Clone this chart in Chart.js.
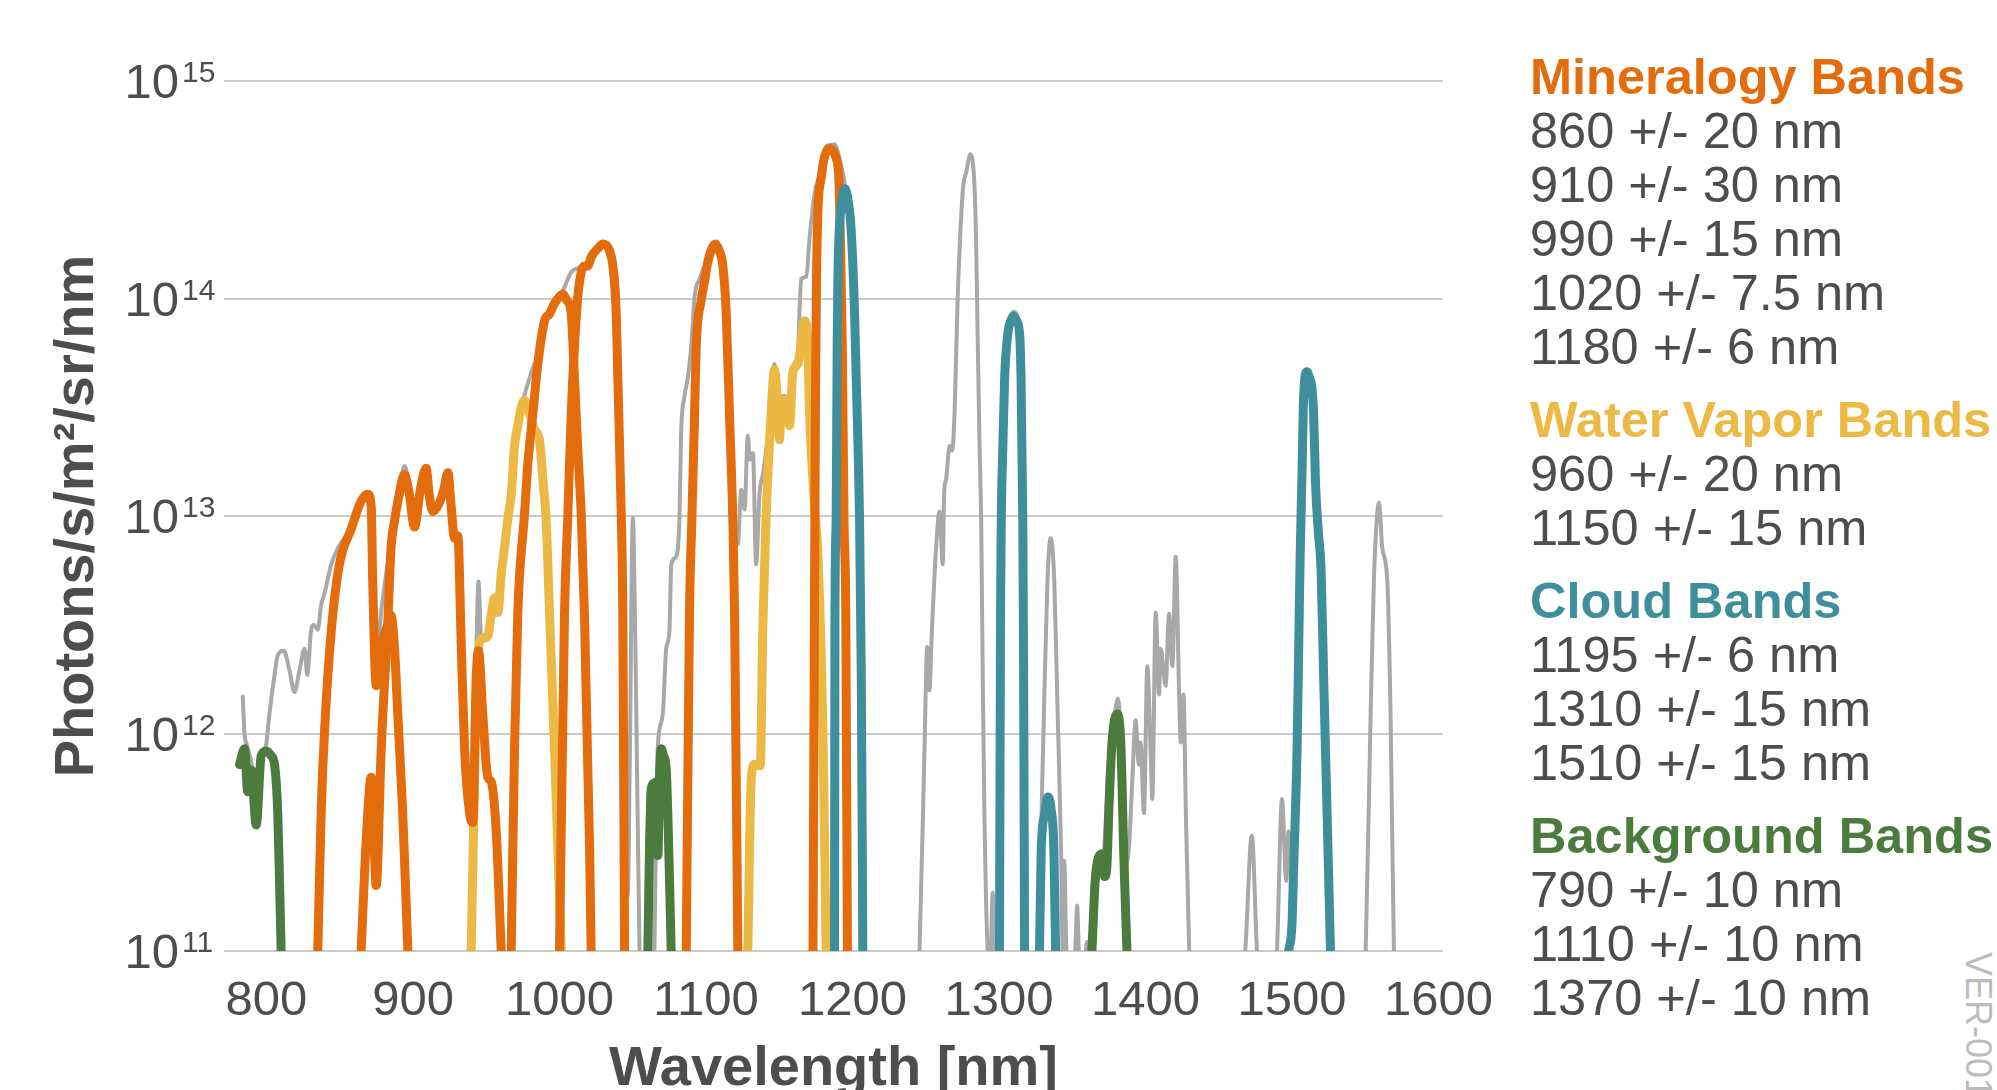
<!DOCTYPE html>
<html>
<head>
<meta charset="utf-8">
<script src="https://cdn.jsdelivr.net/npm/chart.js@4.4.0/dist/chart.umd.min.js"></script>
<style>
  html, body { margin: 0; padding: 0; background: #fff; }
  body { width: 1997px; height: 1090px; overflow: hidden; position: relative; font-family: 'Liberation Sans', Arial, sans-serif; }
  #wrap { position: absolute; left: 0; top: 0; width: 1520px; height: 1090px; }
  #legend { position: absolute; left: 1530px; top: 50px; white-space: nowrap; font-size: 50.5px; line-height: 54px; color: #4d4d4b; }
  #legend .grp + .grp { margin-top: 19px; }
  #legend .hd { font-weight: bold; }
  #ver { position: absolute; left: 1997px; top: 952px; transform-origin: 0 0; transform: rotate(90deg); font-size: 36px; line-height: 38px; color: #bcbcbc; white-space: nowrap; }
</style>
</head>
<body>
<div id="wrap"><canvas id="grafico" width="1520" height="1090"></canvas></div>
<div id="legend"></div>
<div id="ver">VER-001c</div>
<script>
// ticks
const xTicks = [800, 900, 1000, 1100, 1200, 1300, 1400, 1500, 1600];
const yTicks = [1e11, 1e12, 1e13, 1e14, 1e15];

// background spectrum [nm, photons/s/m2/sr/nm]
const background = [[783.8,1.48e12],[785,1.0e12],[786.5,8.9e11],[790,7.1e11],[793,4.5e11],[796,7.1e11],[799.8,8.9e11],[802,1.23e12],[805.5,1.86e12],[807.7,2.29e12],[811.8,2.4e12],[815.7,1.95e12],[819.1,1.55e12],[822.5,1.95e12],[826,2.45e12],[827.8,1.86e12],[830.5,3.0e12],[832.3,3.16e12],[835,3.0e12],[837.3,3.9e12],[839.6,4.4e12],[844.2,6.0e12],[848.7,7.1e12],[857.8,8.9e12],[864.6,1.2e13],[869.1,1.29e13],[871.5,1.12e13],[874,4.0e12],[876,2.8e12],[879,4.0e12],[883,6.3e12],[887,9.5e12],[890,1.2e13],[894.2,1.7e13],[898,1.32e13],[901,1.1e13],[905,1.41e13],[909,1.7e13],[913.5,1.07e13],[918,1.17e13],[923.8,1.62e13],[928.3,8.3e12],[930.6,8.3e12],[933,2.5e12],[935.2,8.9e11],[937.4,6.3e11],[940.8,4.0e11],[943,2.0e12],[944.7,5.0e12],[946.5,2.8e12],[951,3.0e12],[955,4.2e12],[958,4.5e12],[962,7.6e12],[967,1.26e13],[971.5,2.8e13],[976.1,3.6e13],[979.5,4.3e13],[982.9,5.0e13],[986.3,5.4e13],[989.8,7.8e13],[993.2,8.5e13],[996.6,9.8e13],[1001.2,1.05e14],[1008,1.32e14],[1012.5,1.38e14],[1017,1.41e14],[1021.6,1.51e14],[1026.2,1.7e14],[1029.6,1.82e14],[1033,1.78e14],[1035.3,1.62e14],[1037.5,1.41e14],[1039.8,1.02e14],[1042.1,1.26e13],[1043.5,3.2e12],[1045,4.0e11],[1046.6,1.8e11],[1048,7.9e11],[1050,9.8e12],[1052,2.0e12],[1054.6,1.0e11],[1056,6.3e10],[1064,6.3e10],[1066,4.0e11],[1067,8.5e11],[1070.5,1.23e12],[1072.8,2.45e12],[1075,2.95e12],[1076.3,6.0e12],[1079.6,6.5e12],[1081.9,1.0e13],[1083,2.4e13],[1085.3,3.55e13],[1087.5,4.3e13],[1089.9,6.0e13],[1092.2,1.02e14],[1095.6,1.23e14],[1101,1.51e14],[1106.5,1.82e14],[1111.5,1.41e14],[1113.8,8.5e13],[1116,2.95e13],[1118.3,1.12e13],[1121.7,7.4e12],[1124,1.32e13],[1126.3,1.07e13],[1128.5,2.34e13],[1130,1.82e13],[1132,1.95e13],[1134.2,6.0e12],[1136.5,1.26e13],[1139,1.58e13],[1141,2.0e13],[1144.4,3.16e13],[1146.7,5.0e13],[1150.2,2.4e13],[1151.3,3.55e13],[1154.7,3.55e13],[1157,2.7e13],[1159.3,4.8e13],[1162.7,5.6e13],[1164,9.5e13],[1165,1.23e14],[1168.4,1.26e14],[1170.7,1.91e14],[1174,3.0e14],[1178.6,3.9e14],[1182,5.0e14],[1187.7,5.1e14],[1191.8,4.2e14],[1194.9,3.3e14],[1199,2.1e14],[1201.4,8.5e13],[1202.5,4.3e13],[1204.8,9.5e12],[1206,1.74e12],[1207,1.0e11],[1208,6.3e10],[1244,6.3e10],[1245.7,1.0e11],[1249,7.9e11],[1251,2.5e12],[1252.5,1.58e12],[1254,2.8e12],[1257,7.1e12],[1259.4,1.05e13],[1261.6,6.0e12],[1262.5,1.26e13],[1263.9,1.48e13],[1266.2,2.1e13],[1268,2.0e13],[1269.6,2.95e13],[1271.8,1.02e14],[1275.3,3.16e14],[1277.6,3.8e14],[1280.5,4.6e14],[1283.3,3.2e14],[1284.4,1.74e14],[1285.5,6.0e13],[1286.7,2.1e13],[1287.8,9.5e12],[1288.9,1.74e12],[1290,4.3e11],[1292.3,1.0e11],[1294,8.9e10],[1295.7,1.86e11],[1297,7.9e10],[1299.5,7.9e10],[1300.8,3.16e11],[1301.5,4.0e12],[1302.6,2.1e13],[1303.8,4.3e13],[1306,6.9e13],[1309.9,8.7e13],[1314,6.9e13],[1315,4.3e13],[1316.2,9.5e12],[1317.4,1.0e11],[1318.5,7.9e10],[1326.5,7.9e10],[1328.4,2.95e11],[1330.6,1.23e12],[1333,5.0e12],[1335.2,7.9e12],[1337.7,5.0e12],[1340,1.23e12],[1342.3,2.95e11],[1343.4,1.0e11],[1344.5,2.6e11],[1346,1.0e11],[1350,7.9e10],[1352,1.0e11],[1353.3,1.62e11],[1354.5,1.0e11],[1358.5,8.9e10],[1360,1.1e11],[1361.5,8.9e10],[1363.4,1.0e11],[1365.6,2.0e11],[1367.9,2.7e11],[1371.3,2.8e11],[1374.7,7.2e11],[1377,8.9e11],[1381,1.45e12],[1382.7,1.12e12],[1383.9,6.3e11],[1386,2.5e11],[1388.6,2.95e11],[1390.9,6.0e11],[1393.2,1.15e12],[1395.4,7.2e11],[1396.6,9.1e11],[1398.9,4.3e11],[1401.2,2.04e12],[1403.4,8.5e11],[1404.6,5.0e11],[1406.9,3.6e12],[1409.2,1.51e12],[1410.3,2.45e12],[1413.7,1.66e12],[1416,3.55e12],[1418.3,2.04e12],[1420.6,6.5e12],[1422.9,1.51e12],[1424,9.1e11],[1425.9,1.51e12],[1427.5,4.3e11],[1429.8,1.0e11],[1431,7.9e10],[1466,7.9e10],[1468,1.0e11],[1472.5,3.4e11],[1476,1.0e11],[1477,7.9e10],[1488.5,7.9e10],[1489.7,1.0e11],[1493.1,5.0e11],[1496,2.1e11],[1497.6,3.55e11],[1499.9,2.5e11],[1501,3.16e11],[1503.4,8.9e11],[1505.6,7.1e12],[1507.9,3.55e13],[1510.1,4.7e13],[1513.5,4.0e13],[1517,9.5e12],[1521.6,1.74e12],[1526.2,1.0e11],[1527,7.9e10],[1549,7.9e10],[1550.2,1.0e11],[1553.6,1.23e12],[1555.8,5.0e12],[1559.3,1.15e13],[1561.6,7.1e12],[1565,5.0e12],[1567.2,1.23e12],[1569.5,1.0e11],[1570.5,7.9e10]];

// mineralogy bands
const min860 = [[835,1.0e11],[837.3,4.3e11],[839.6,1.02e12],[844.2,2.95e12],[849.8,6.0e12],[857.8,8.7e12],[864.6,1.17e13],[869.1,1.26e13],[871.5,1.1e13],[872.5,5.0e12],[874.9,1.66e12],[877.5,2.24e12],[880,2.8e12],[882.7,3.16e12],[885,3.5e12],[887.4,2.45e12],[889.6,1.23e12],[893,4.3e11],[896.5,1.0e11]];
const min910 = [[864.6,1.0e11],[868,3.16e11],[871.5,6.3e11],[873.2,3.55e11],[874.9,2.0e11],[878.3,8.5e11],[882.7,3.16e12],[885,7.1e12],[887.4,9.5e12],[890,1.2e13],[894.2,1.55e13],[897.5,1.26e13],[901,8.9e12],[905,1.32e13],[909,1.66e13],[911,1.26e13],[913.5,1.05e13],[918,1.15e13],[921,1.32e13],[923.8,1.58e13],[926,1.12e13],[928.3,7.9e12],[930.6,8.1e12],[933,2.45e12],[935.2,8.5e11],[938.6,4.3e11],[940.8,3.9e11],[943.1,1.74e12],[944.7,2.4e12],[947.6,1.23e12],[951,6.3e11],[953.4,6.0e11],[956.8,3.55e11],[960.2,1.0e11]];
const min990 = [[967,1.0e11],[969.3,8.5e11],[971.5,3.55e12],[976.1,1.02e13],[978.4,1.74e13],[981.8,2.95e13],[985.2,5.0e13],[989.8,7.9e13],[993.2,8.5e13],[996.6,9.5e13],[1000,1.02e14],[1002.3,1.05e14],[1005,9.8e13],[1008,8.5e13],[1010.2,4.3e13],[1012.5,2.0e13],[1014.8,1.02e13],[1017,3.55e12],[1020.5,3.0e11],[1021.6,1.0e11]];
const min1020 = [[1000,1.0e11],[1003.4,3.55e12],[1005.7,1.02e13],[1008,2.95e13],[1010.2,6.0e13],[1012.5,1.02e14],[1014.8,1.32e14],[1017,1.41e14],[1019.3,1.41e14],[1021.6,1.55e14],[1026.2,1.7e14],[1029.6,1.78e14],[1032.5,1.74e14],[1034.1,1.66e14],[1036.4,1.41e14],[1038.7,8.5e13],[1039.8,4.3e13],[1042.1,1.02e13],[1043.2,3.55e12],[1044.4,1.0e11]];
const min1106 = [[1086.5,1.0e11],[1088.7,3.55e12],[1090.3,9.5e12],[1092.2,2.95e13],[1093.3,6.0e13],[1096.7,9.8e13],[1099,1.2e14],[1101,1.45e14],[1104,1.7e14],[1106.5,1.78e14],[1109,1.66e14],[1111.5,1.41e14],[1113.8,8.5e13],[1116,2.95e13],[1118.3,9.5e12],[1119.5,3.55e12],[1121.7,1.0e11]];
const min1180 = [[1173,1.0e11],[1173.7,1.26e12],[1174.3,1.0e13],[1174.8,4.3e13],[1175.4,1.23e14],[1176.3,2.45e14],[1178.6,3.6e14],[1181,4.5e14],[1184.3,4.9e14],[1186.5,4.8e14],[1188.4,4.5e14],[1190.7,3.5e14],[1191.8,1.74e14],[1193,6.0e13],[1194.2,9.5e12],[1195.4,3.55e12],[1196.5,1.0e11]];

// water vapor bands
const wv960 = [[939.7,1.0e11],[941,2.8e11],[942.3,7.9e11],[943.8,2.0e12],[946.5,2.7e12],[949,2.75e12],[951,2.8e12],[953.5,3.55e12],[955.5,4.2e12],[957.9,3.6e12],[960.2,5.4e12],[962.4,7.1e12],[965,1.0e13],[967,1.23e13],[969.3,2.1e13],[971.5,2.6e13],[973.9,3.16e13],[976.1,3.4e13],[979.5,2.95e13],[982.9,2.5e13],[986.3,2.24e13],[988.6,1.48e13],[990.9,9.5e12],[993.2,3.55e12],[996.6,8.5e11],[998.9,2.95e11],[1001.2,1.0e11]];
const wv1150 = [[1128.5,1.0e11],[1130.8,6.0e11],[1133,7.2e11],[1137,7.1e11],[1138.8,3.16e12],[1141,1.0e13],[1144.4,2.95e13],[1146.7,4.7e13],[1148.5,3.55e13],[1150.2,2.24e13],[1151.3,3.4e13],[1154.7,3.4e13],[1157,2.6e13],[1159.3,4.6e13],[1162.7,5.0e13],[1165,6.3e13],[1167.3,7.9e13],[1169.5,6.0e13],[1170.7,2.95e13],[1173.5,1.26e13],[1176.5,6.3e12],[1179.8,1.0e12],[1182,1.0e11]];

// cloud bands
const cl1195 = [[1187.7,1.0e11],[1188,3.55e12],[1188.8,9.5e12],[1189.5,6.0e13],[1190,1.23e14],[1191,2.1e14],[1193,2.9e14],[1194.9,3.2e14],[1197,2.8e14],[1199,2.1e14],[1201.4,8.5e13],[1202.5,4.3e13],[1204.8,9.5e12],[1206,1.74e12],[1207,1.0e11]];
const cl1310 = [[1300.3,1.0e11],[1301,3.55e12],[1301.5,9.5e12],[1302.6,2.1e13],[1303.8,4.3e13],[1306,6.9e13],[1308,7.9e13],[1309.9,8.3e13],[1312,7.9e13],[1314,6.9e13],[1315,4.3e13],[1316.2,9.5e12],[1316.8,1.74e12],[1317.4,1.0e11]];
const cl1333 = [[1327.6,1.0e11],[1328.8,2.95e11],[1331,4.2e11],[1333.3,5.1e11],[1335.5,4.5e11],[1337.4,2.95e11],[1338.6,1.0e11]];
const cl1510 = [[1497.6,1.0e11],[1499.9,1.32e11],[1501,2.34e11],[1503.4,8.5e11],[1504.5,2.45e12],[1505.6,7.1e12],[1506.7,1.48e13],[1507.9,3.55e13],[1510.1,4.6e13],[1512,4.3e13],[1513.5,3.9e13],[1514.7,2.95e13],[1516,1.41e13],[1518,8.3e12],[1519.8,5.6e12],[1521.6,1.74e12],[1523.9,4.3e11],[1526.2,1.0e11]];

// background bands
const bg790 = [[781.6,7.2e11],[785,8.5e11],[787.2,5.4e11],[789.6,6.8e11],[793,3.8e11],[796.4,7.9e11],[799.8,8.3e11],[803.2,7.9e11],[805.5,7.2e11],[807.7,4.3e11],[808.9,2.1e11],[810,1.0e11]];
const bg1070 = [[1060.3,1.0e11],[1061.4,2.95e11],[1062.6,5.6e11],[1064.5,5.9e11],[1066,6.0e11],[1067.1,2.75e11],[1068.3,6.3e11],[1069.4,8.5e11],[1071,7.9e11],[1072.8,6.9e11],[1073.9,4.3e11],[1075.1,2.1e11],[1076.2,1.0e11]];
const bg1370 = [[1363.4,1.0e11],[1365.6,2.1e11],[1367.9,2.7e11],[1370.5,2.8e11],[1372,2.2e11],[1373.5,2.4e11],[1375,4.5e11],[1377,8.9e11],[1380.4,1.23e12],[1382.7,1.02e12],[1383.9,6.0e11],[1385,2.95e11],[1387.3,1.0e11]];

// legend text
const grpTitles = ['Mineralogy Bands', 'Water Vapor Bands', 'Cloud Bands', 'Background Bands'];
const grpItems = [
    ['860 +/- 20 nm', '910 +/- 30 nm', '990 +/- 15 nm', '1020 +/- 7.5 nm', '1180 +/- 6 nm'],
    ['960 +/- 20 nm', '1150 +/- 15 nm'],
    ['1195 +/- 6 nm', '1310 +/- 15 nm', '1510 +/- 15 nm'],
    ['790 +/- 10 nm', '1110 +/- 10 nm', '1370 +/- 10 nm']
];

const cores = { laranja: '#e36c0d', amarelo: '#ebb944', azul: '#3f8e9c', verde: '#4b7b3d', cinza: '#a8a8a8' };
const corTexto = '#4d4d4b';
const grpCores = [cores.laranja, cores.amarelo, cores.azul, cores.verde];

// monta a legenda lateral
const leg = document.getElementById('legend');
grpTitles.forEach((t, i) => {
    let html = '<div class="grp"><div class="hd" style="color:' + grpCores[i] + '">' + t + '</div>';
    grpItems[i].forEach(s => { html += '<div>' + s + '</div>'; });
    leg.innerHTML += html + '</div>';
});

function serie(pares, cor, largura, ordem) {
    return {
        data: pares.map(p => ({ x: p[0], y: p[1] })),
        borderColor: cor,
        borderWidth: largura,
        pointRadius: 0,
        cubicInterpolationMode: 'monotone',
        borderJoinStyle: 'round',
        borderCapStyle: 'round',
        clip: 0,
        order: ordem
    };
}

// rótulos 10^n do eixo y
const rotulosY = {
    id: 'rotulosY',
    afterDraw(chart) {
        const ctx = chart.ctx;
        const y = chart.scales.y;
        ctx.save();
        ctx.fillStyle = corTexto;
        yTicks.forEach(v => {
            const py = y.getPixelForValue(v);
            ctx.font = '49px "Liberation Sans", Arial, sans-serif';
            ctx.textAlign = 'right';
            ctx.textBaseline = 'alphabetic';
            ctx.fillText('10', y.right - 45, py + 17);
            ctx.font = '30px "Liberation Sans", Arial, sans-serif';
            ctx.textAlign = 'left';
            ctx.fillText(String(Math.round(Math.log10(v))), y.right - 42, py + 1);
        });
        ctx.restore();
    }
};

new Chart(document.getElementById('grafico').getContext('2d'), {
    type: 'line',
    data: {
        datasets: [
            serie(cl1195, cores.azul, 9, 1),
            serie(cl1310, cores.azul, 9, 1),
            serie(cl1333, cores.azul, 9, 1),
            serie(cl1510, cores.azul, 9, 1),
            serie(min860, cores.laranja, 9, 2),
            serie(min910, cores.laranja, 9, 2),
            serie(min990, cores.laranja, 9, 2),
            serie(min1020, cores.laranja, 9, 2),
            serie(min1106, cores.laranja, 9, 2),
            serie(min1180, cores.laranja, 9, 2),
            serie(bg790, cores.verde, 9, 3),
            serie(bg1070, cores.verde, 9, 3),
            serie(bg1370, cores.verde, 9, 3),
            serie(wv960, cores.amarelo, 9, 4),
            serie(wv1150, cores.amarelo, 9, 4),
            serie(background, cores.cinza, 4, 10)
        ]
    },
    options: {
        responsive: false,
        animation: false,
        devicePixelRatio: 1,
        layout: { padding: { top: 81, right: 77, bottom: 0, left: 0 } },
        plugins: { legend: { display: false }, tooltip: { enabled: false } },
        scales: {
            x: {
                type: 'linear',
                min: 771,
                max: 1603,
                afterBuildTicks: s => { s.ticks = xTicks.map(v => ({ value: v })); },
                afterFit: s => { s.height = 139; },
                grid: { display: false, drawTicks: false },
                border: { display: false },
                ticks: {
                    padding: 21,
                    color: corTexto,
                    font: { family: '"Liberation Sans", Arial, sans-serif', size: 49 },
                    maxRotation: 0,
                    autoSkip: false,
                    callback: v => String(v)
                },
                title: {
                    display: true,
                    text: 'Wavelength [nm]',
                    color: corTexto,
                    font: { family: '"Liberation Sans", Arial, sans-serif', size: 56, weight: 'bold', lineHeight: 1 },
                    padding: { top: 0, bottom: -8 }
                }
            },
            y: {
                type: 'logarithmic',
                min: 1e11,
                max: 1e15,
                afterBuildTicks: s => { s.ticks = yTicks.map(v => ({ value: v })); },
                afterFit: s => { s.width = 224; },
                grid: { color: '#cbcbc5', lineWidth: 2, drawTicks: false },
                border: { display: false },
                ticks: { display: false },
                title: {
                    display: true,
                    text: 'Photons/s/m²/sr/nm',
                    color: corTexto,
                    font: { family: '"Liberation Sans", Arial, sans-serif', size: 56, weight: 'bold', lineHeight: 1 },
                    padding: { top: 50, bottom: 0 }
                }
            }
        }
    },
    plugins: [rotulosY]
});
</script>
</body>
</html>
